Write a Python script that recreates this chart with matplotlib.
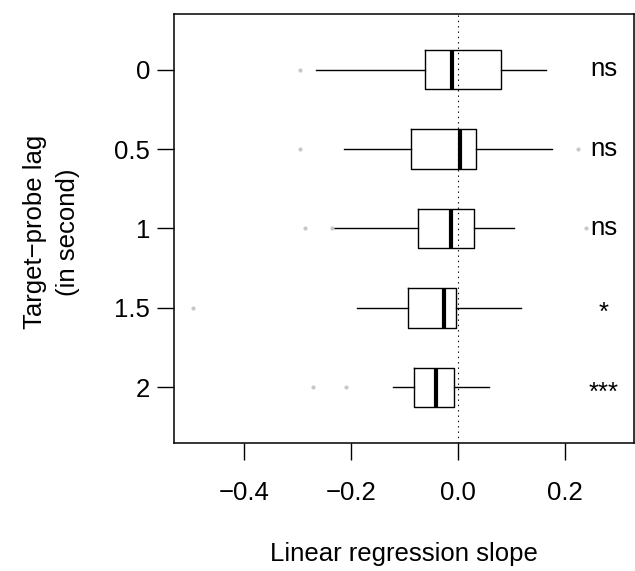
import matplotlib
matplotlib.use("Agg")
import matplotlib.pyplot as plt

plt.rcParams['font.family'] = ['Liberation Sans', 'DejaVu Sans']

# values
lags = ['0', '0.5', '1', '1.5', '2']
whislo = [-0.265, -0.214, -0.232, -0.189, -0.122]
q1 = [-0.062, -0.087, -0.075, -0.094, -0.082]
med = [-0.011, 0.004, -0.014, -0.026, -0.042]
q3 = [0.080, 0.033, 0.030, -0.004, -0.007]
whishi = [0.164, 0.175, 0.105, 0.117, 0.058]
fliers = [[-0.295], [-0.295, 0.225], [-0.286, -0.236, 0.240], [-0.496], [-0.272, -0.209]]
signif = ['ns', 'ns', 'ns', '*', '***']

fs = 18.5
fig = plt.figure(figsize=(6.35, 5.71), dpi=100)
ax = fig.add_axes([0.274, 0.2242, 0.7244, 0.7513])

stats = []
for i in range(len(lags)):
    stats.append(dict(med=med[i], q1=q1[i], q3=q3[i], whislo=whislo[i],
                      whishi=whishi[i], fliers=fliers[i], label=lags[i]))

pos = list(range(1, len(lags) + 1))
ax.bxp(stats, positions=pos, widths=0.5, vert=False, showcaps=False,
       boxprops=dict(color='black', linewidth=1.0),
       whiskerprops=dict(color='black', linewidth=1.0, linestyle='-'),
       medianprops=dict(color='black', linewidth=3.0, solid_capstyle='butt'),
       flierprops=dict(marker='o', markersize=3, markerfacecolor='#c8c8c8',
                       markeredgecolor='none'))

# reference line at zero
ax.axvline(0, color='black', linewidth=0.8, linestyle=(0, (1.2, 3.6)), zorder=3)

for i, s in enumerate(signif):
    dy = -4.8 if s == 'ns' else -8.8
    ax.annotate(s, xy=(0.272, pos[i]), xytext=(0, dy), textcoords='offset points',
                ha='center', va='baseline', fontsize=fs)

ax.set_xlim(-0.531, 0.329)
ax.set_ylim(5.7, 0.3)
ax.set_xticks([-0.4, -0.2, 0.0, 0.2])
ax.set_yticks(pos)
ax.set_yticklabels(lags)
ax.tick_params(axis='both', direction='out', length=12.2, width=1.0, labelsize=fs)
ax.tick_params(axis='x', pad=15)
ax.tick_params(axis='y', pad=5)
for sp in ax.spines.values():
    sp.set_linewidth(1.1)

fig.text(0.5 * (0.274 + 0.9984), 1 - 554 / 571, 'Linear regression slope',
         ha='center', va='center', fontsize=fs)
ymid = 1 - 232 / 571
fig.text(35 / 635, ymid, 'Target\u2212probe lag', rotation=90,
         ha='center', va='center', fontsize=fs)
fig.text(68 / 635, ymid, '(in second)', rotation=90,
         ha='center', va='center', fontsize=fs)

fig.savefig('out.png', dpi=100)
